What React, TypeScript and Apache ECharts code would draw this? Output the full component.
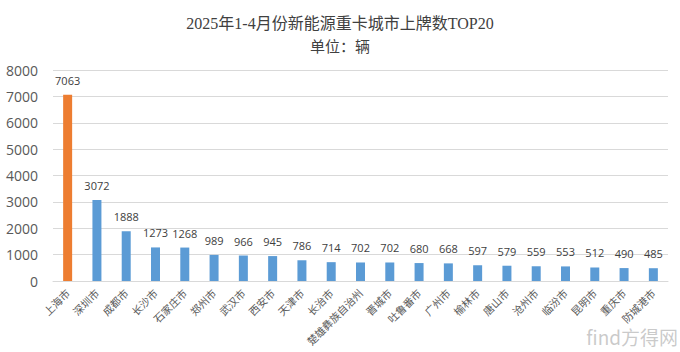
import React, { useEffect, useRef } from "react";
import * as echarts from "echarts";

const cities = [
  "上海市", "深圳市", "成都市", "长沙市", "石家庄市", "郑州市", "武汉市", "西安市", "天津市", "长治市",
  "楚雄彝族自治州", "晋城市", "吐鲁番市", "广州市", "榆林市", "唐山市", "沧州市", "临汾市", "昆明市", "重庆市", "防城港市",
];
const counts = [7063, 3072, 1888, 1273, 1268, 989, 966, 945, 786, 714, 702, 702, 680, 668, 597, 579, 559, 553, 512, 490, 485];
const yTicks = [0, 1000, 2000, 3000, 4000, 5000, 6000, 7000, 8000];

const titleText = "2025年1-4月份新能源重卡城市上牌数TOP20";
const subText = "单位：辆";

export default function App() {
  const ref = useRef<HTMLDivElement>(null);
  useEffect(() => {
    if (!ref.current) return;
    const chart = echarts.init(ref.current, null, { renderer: "svg" });
    chart.setOption({
      animation: false,
      backgroundColor: "#ffffff",
      title: {
        text: titleText,
        subtext: subText,
        left: "center",
        top: 10,
        itemGap: 8,
        textStyle: { fontFamily: "Liberation Serif, Noto Sans CJK SC", fontSize: 16, fontWeight: "normal", color: "#404040" },
        subtextStyle: { fontFamily: "Liberation Serif, Noto Sans CJK SC", fontSize: 15, color: "#404040" },
      },
      grid: { left: 53, right: 12, top: 70, bottom: 71 },
      xAxis: {
        type: "category",
        data: cities,
        axisLine: { lineStyle: { color: "#D9D9D9", width: 1 } },
        axisTick: { show: false },
        axisLabel: {
          interval: 0,
          rotate: 45,
          fontSize: 10.5,
          color: "#595959",
          fontFamily: "Noto Sans CJK SC",
          margin: 10,
        },
      },
      yAxis: {
        type: "value",
        min: yTicks[0],
        max: yTicks[yTicks.length - 1],
        interval: 1000,
        axisLine: { show: false },
        axisTick: { show: false },
        splitLine: { lineStyle: { color: "#D9D9D9", width: 1 } },
        axisLabel: {
          fontSize: 14,
          color: "#595959",
          fontFamily: "Open Sans, Noto Sans",
          margin: 15,
          formatter: (v: number) => String(v),
        },
      },
      series: [
        {
          type: "bar",
          data: counts.map((v, i) => ({ value: v, itemStyle: { color: i === 0 ? "#ED7D31" : "#5B9BD5" } })),
          barWidth: 9,
          label: {
            show: true,
            position: "top",
            distance: 9,
            fontSize: 11,
            color: "#404040",
            fontFamily: "Open Sans, Noto Sans",
          },
        },
      ],
      graphic: [
        {
          type: "text",
          right: 2,
          top: 327,
          style: {
            text: "find方得网",
            fontSize: 19,
            fontFamily: "Noto Sans CJK SC",
            fill: "rgba(150,150,150,0.5)",
          },
        },
      ],
    });
    return () => chart.dispose();
  }, []);
  return (
    <div
      ref={ref}
      style={{ position: "absolute", left: 0, top: 0, width: 680, height: 352 }}
    />
  );
}
